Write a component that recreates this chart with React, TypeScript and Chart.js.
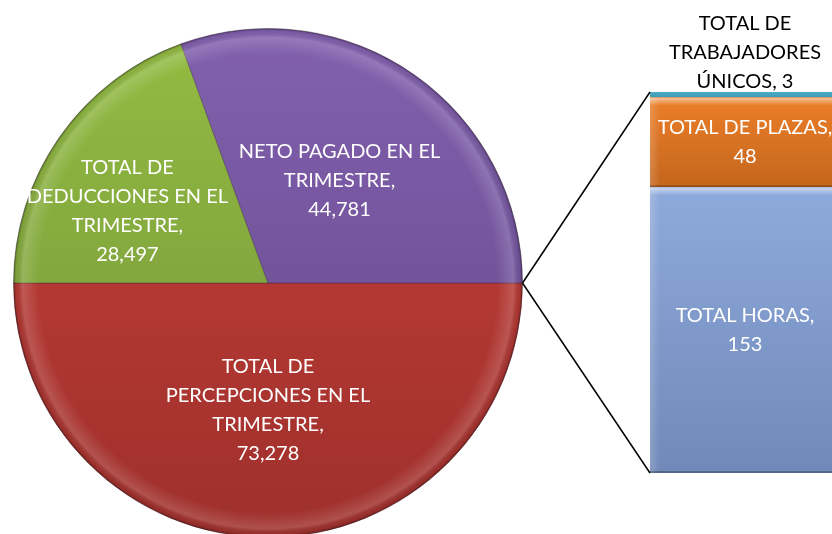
import React, { useEffect, useRef } from "react";
import { Chart, registerables } from "chart.js";

Chart.register(...registerables);

// ---- data ----
const pieCategories = [
  "TOTAL DE PERCEPCIONES EN EL TRIMESTRE",
  "TOTAL DE DEDUCCIONES EN EL TRIMESTRE",
  "NETO PAGADO EN EL TRIMESTRE",
];
const pieValues = [73278, 28497, 44781];
const pieLabelLines = [
  ["TOTAL DE", "PERCEPCIONES EN EL", "TRIMESTRE,", "{v}"],
  ["TOTAL DE", "DEDUCCIONES EN EL", "TRIMESTRE,", "{v}"],
  ["NETO PAGADO EN EL", "TRIMESTRE,", "{v}"],
];

const barCategories = ["TOTAL HORAS", "TOTAL DE PLAZAS", "TOTAL DE TRABAJADORES ÚNICOS"];
const barValues = [153, 48, 3];
const barLabelLines = [
  ["TOTAL HORAS,", "{v}"],
  ["TOTAL DE PLAZAS,", "{v}"],
  ["TOTAL DE", "TRABAJADORES", "ÚNICOS, {v}"],
];

// ---- styles ----
const pieColors = [
  ["#C9423C", "#9E2F2B"],
  ["#93BC42", "#73923A"],
  ["#8260AE", "#634889"],
];
const barColors = [
  ["#8EAADC", "#7089B8"],
  ["#EC7E28", "#C4661E"],
  ["#4BACC6", "#3F97AE"],
];
const pieLabelPlace = [
  { frac: 0.5, shiftDeg: 0 },
  { frac: 0.62, shiftDeg: -8 },
  { frac: 0.49, shiftDeg: 0 },
];
const FONT = '20px Lato';
const LINE_H = 29;

const fmt = (v: number) => v.toLocaleString("en-US");
const ok = (...n: number[]) => n.every((x) => Number.isFinite(x));

function drawLines(ctx: CanvasRenderingContext2D, lines: string[], x: number, cy: number, color: string) {
  ctx.save();
  ctx.font = FONT;
  ctx.fillStyle = color;
  ctx.textAlign = "center";
  ctx.textBaseline = "middle";
  const start = cy - ((lines.length - 1) * LINE_H) / 2;
  lines.forEach((l, i) => ctx.fillText(l, x, start + i * LINE_H));
  ctx.restore();
}

export default function App() {
  const pieRef = useRef<HTMLCanvasElement>(null);
  const barRef = useRef<HTMLCanvasElement>(null);

  useEffect(() => {
    document.body.style.margin = "0";
    const pieCanvas = pieRef.current!;
    const barCanvas = barRef.current!;

    const pieRim = {
      id: "pieRim",
      afterDatasetsDraw(chart: any) {
        const arc = chart.getDatasetMeta(0).data[0];
        if (!arc) return;
        const { x, y, outerRadius: r } = arc;
        if (!ok(x, y, r) || r <= 0) return;
        const ctx = chart.ctx as CanvasRenderingContext2D;
        ctx.save();
        const g = ctx.createRadialGradient(x, y, 0, x, y, r);
        g.addColorStop(0, "rgba(255,255,255,0)");
        g.addColorStop(0.9, "rgba(255,255,255,0)");
        g.addColorStop(0.965, "rgba(255,255,255,0.16)");
        g.addColorStop(0.99, "rgba(0,0,0,0.05)");
        g.addColorStop(1, "rgba(0,0,0,0.35)");
        ctx.fillStyle = g;
        ctx.beginPath();
        ctx.arc(x, y, r, 0, Math.PI * 2);
        ctx.fill();
        ctx.restore();
      },
    };

    const pieLabels = {
      id: "pieLabels",
      afterDatasetsDraw(chart: any) {
        const ctx = chart.ctx as CanvasRenderingContext2D;
        chart.getDatasetMeta(0).data.forEach((arc: any, i: number) => {
          const p = pieLabelPlace[i];
          const mid = (arc.startAngle + arc.endAngle) / 2 + (p.shiftDeg * Math.PI) / 180;
          const rr = arc.outerRadius * p.frac;
          const lines = pieLabelLines[i].map((l) => l.replace("{v}", fmt(pieValues[i])));
          drawLines(ctx, lines, arc.x + rr * Math.cos(mid), arc.y + rr * Math.sin(mid), "#ffffff");
        });
      },
    };

    const pie = new Chart(pieCanvas, {
      type: "pie",
      data: {
        labels: pieCategories,
        datasets: [
          {
            data: pieValues,
            backgroundColor: (c: any) => {
              const chart = c.chart;
              const area = chart.chartArea;
              const cols = pieColors[c.dataIndex];
              if (!area || !ok(area.top, area.bottom)) return cols[0];
              const g = chart.ctx.createLinearGradient(0, area.top, 0, area.bottom);
              g.addColorStop(0, cols[0]);
              g.addColorStop(1, cols[1]);
              return g;
            },
            borderWidth: 1,
            borderColor: "rgba(50,30,50,0.35)",
          },
        ],
      },
      options: {
        responsive: false,
        animation: false,
        rotation: 90,
        layout: { padding: 0 },
        plugins: { legend: { display: false }, tooltip: { enabled: false } },
      },
      plugins: [pieRim, pieLabels],
    } as any);

    const barTotal = barValues.reduce((a, b) => a + b, 0);

    const barDecor = {
      id: "barDecor",
      afterDatasetsDraw(chart: any) {
        const ctx = chart.ctx as CanvasRenderingContext2D;
        barValues.forEach((v, i) => {
          const el = chart.getDatasetMeta(i).data[0];
          if (!el || !ok(el.x, el.y, el.base, el.width)) return;
          const left = el.x - el.width / 2;
          const top = el.y;
          const h = el.base - el.y;
          if (h > 12) {
            ctx.save();
            const g = ctx.createLinearGradient(0, top, 0, top + 8);
            g.addColorStop(0, "rgba(255,255,255,0.55)");
            g.addColorStop(1, "rgba(255,255,255,0)");
            ctx.fillStyle = g;
            ctx.fillRect(left, top, el.width, 8);
            const g2 = ctx.createLinearGradient(left, 0, left + 10, 0);
            g2.addColorStop(0, "rgba(255,255,255,0.18)");
            g2.addColorStop(1, "rgba(255,255,255,0)");
            ctx.fillStyle = g2;
            ctx.fillRect(left, top, 10, h);
            ctx.fillStyle = "rgba(0,0,0,0.25)";
            ctx.fillRect(left, el.base - 2, el.width, 2);
            ctx.restore();
          }
          const lines = barLabelLines[i].map((l) => l.replace("{v}", fmt(v)));
          if (h > 40) {
            drawLines(ctx, lines, el.x, (el.y + el.base) / 2, "#ffffff");
          } else {
            const cy = el.y - 10 - ((lines.length - 1) * LINE_H) / 2;
            drawLines(ctx, lines, el.x, cy, "#000000");
          }
        });
      },
    };

    const connectors = {
      id: "connectors",
      afterDraw(chart: any) {
        const arc: any = pie.getDatasetMeta(0).data[0];
        if (!arc) return;
        const dx = pieCanvas.offsetLeft - barCanvas.offsetLeft;
        const dy = pieCanvas.offsetTop - barCanvas.offsetTop;
        const a = arc.startAngle;
        const sx = arc.x + dx + arc.outerRadius * Math.cos(a);
        const sy = arc.y + dy + arc.outerRadius * Math.sin(a);
        const bottom = chart.getDatasetMeta(0).data[0];
        const top = chart.getDatasetMeta(barValues.length - 1).data[0];
        if (!bottom || !top) return;
        const left = bottom.x - bottom.width / 2;
        if (!ok(sx, sy, left, top.y, bottom.base)) return;
        const ctx = chart.ctx as CanvasRenderingContext2D;
        ctx.save();
        ctx.strokeStyle = "#000000";
        ctx.lineWidth = 1.5;
        ctx.beginPath();
        ctx.moveTo(sx, sy);
        ctx.lineTo(left, top.y);
        ctx.moveTo(sx, sy);
        ctx.lineTo(left, bottom.base);
        ctx.stroke();
        ctx.restore();
      },
    };

    const bar = new Chart(barCanvas, {
      type: "bar",
      data: {
        labels: [""],
        datasets: barCategories.map((name, i) => ({
          label: name,
          data: [barValues[i]],
          backgroundColor: (c: any) => {
            const chart = c.chart;
            const ys = chart.scales?.y;
            const cols = barColors[i];
            if (!ys) return cols[0];
            const below = barValues.slice(0, i).reduce((a, b) => a + b, 0);
            const y0 = ys.getPixelForValue(below + barValues[i]);
            const y1 = ys.getPixelForValue(below);
            if (!ok(y0, y1) || y0 === y1) return cols[0];
            const g = chart.ctx.createLinearGradient(0, y0, 0, y1);
            g.addColorStop(0, cols[0]);
            g.addColorStop(1, cols[1]);
            return g;
          },
          borderWidth: 0,
          barPercentage: 1,
          categoryPercentage: 1,
          stack: "s",
        })),
      },
      options: {
        responsive: false,
        animation: false,
        layout: { padding: { left: 650, right: 60, top: 92, bottom: 61 } },
        scales: {
          x: { display: false, stacked: true },
          y: { display: false, stacked: true, min: 0, max: barTotal },
        },
        plugins: { legend: { display: false }, tooltip: { enabled: false } },
      },
      plugins: [barDecor, connectors],
    } as any);

    return () => {
      bar.destroy();
      pie.destroy();
    };
  }, []);

  return (
    <div
      style={{
        position: "fixed",
        left: 0,
        top: 0,
        width: 832,
        height: 534,
        overflow: "hidden",
        background: "#ffffff",
      }}
    >
      <canvas
        ref={pieRef}
        width={510}
        height={510}
        style={{ position: "absolute", left: 13, top: 28, width: 510, height: 510 }}
      />
      <canvas
        ref={barRef}
        width={900}
        height={534}
        style={{ position: "absolute", left: 0, top: 0, width: 900, height: 534 }}
      />
    </div>
  );
}
